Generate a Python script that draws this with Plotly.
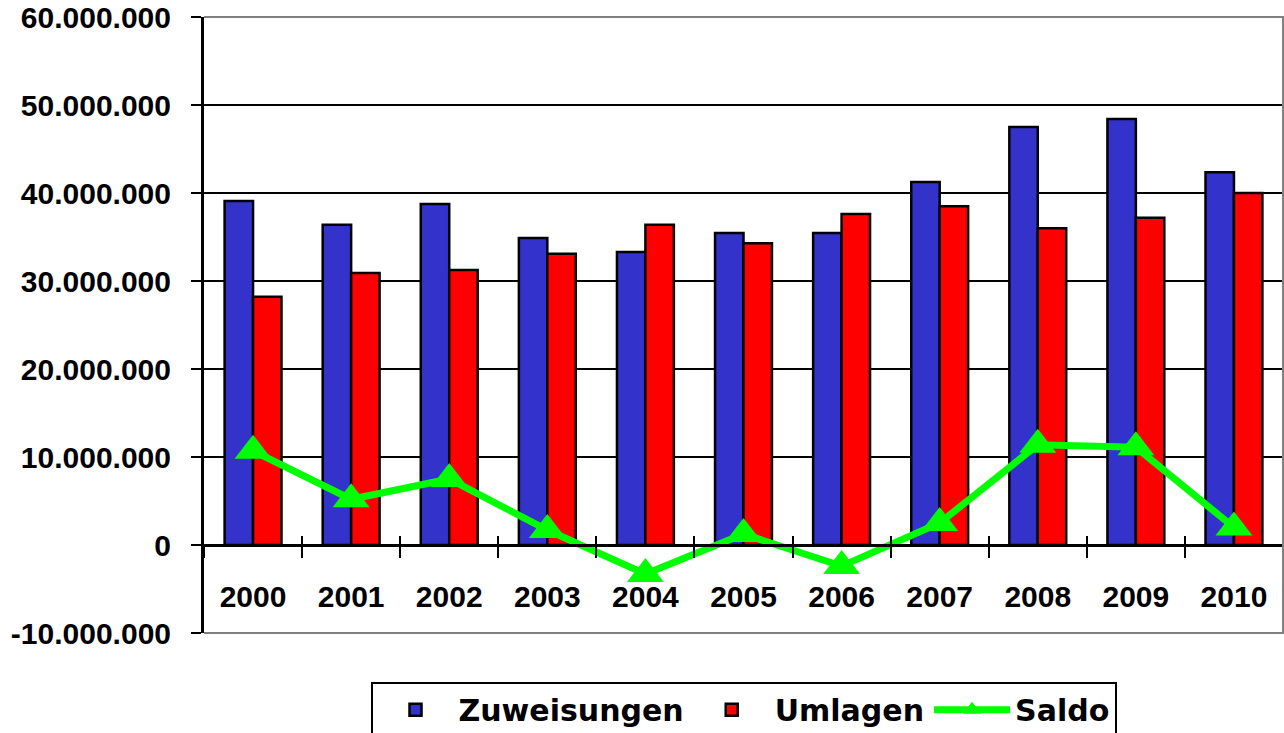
import plotly.graph_objects as go

years = ['2000', '2001', '2002', '2003', '2004', '2005', '2006', '2007', '2008', '2009', '2010']
zuweisungen = [39100000, 36400000, 38750000, 34900000, 33300000, 35450000, 35450000, 41250000, 47500000, 48400000, 42350000]
umlagen = [28200000, 30900000, 31250000, 33100000, 36400000, 34300000, 37600000, 38500000, 36000000, 37200000, 40000000]
saldo = [10700000, 5200000, 7500000, 1700000, -3300000, 1250000, -2400000, 2500000, 11400000, 11100000, 2000000]

y_tickvals = [-10000000, 0, 10000000, 20000000, 30000000, 40000000, 50000000, 60000000]
y_ticktext = [f"{v:,}".replace(",", ".") for v in y_tickvals]

Y_MIN, Y_MAX = -10000000, 60000000
zero_pos = (0 - Y_MIN) / (Y_MAX - Y_MIN)

BLUE = '#3333CC'
RED = '#FF0000'
GREEN = '#00FF00'
FONT = 'Liberation Sans, Arial, sans-serif'

fig = go.Figure()
fig.add_trace(go.Bar(x=years, y=zuweisungen, name='Zuweisungen',
                     marker=dict(color=BLUE, line=dict(color='black', width=2.5))))
fig.add_trace(go.Bar(x=years, y=umlagen, name='Umlagen',
                     marker=dict(color=RED, line=dict(color='black', width=2.5))))
fig.add_trace(go.Scatter(x=years, y=saldo, name='Saldo', mode='lines+markers',
                         xaxis='x2', yaxis='y',
                         line=dict(color=GREEN, width=7),
                         marker=dict(symbol='triangle-up', size=32, color=GREEN)))

fig.update_layout(
    template='none',
    width=1284, height=733,
    margin=dict(l=204, r=1, t=17, b=100, autoexpand=False),
    paper_bgcolor='white', plot_bgcolor='white',
    barmode='group', bargap=0.42, bargroupgap=0,
    showlegend=True,
    legend=dict(orientation='h', x=0.5, xanchor='center', y=-0.079, yanchor='top',
                bordercolor='black', borderwidth=2, bgcolor='white',
                font=dict(family='DejaVu Sans', size=30, color='black', weight='bold'),
                itemwidth=76, tracegroupgap=0, traceorder='normal'),
    xaxis=dict(type='category', categoryorder='array', categoryarray=years,
               range=[-0.5, 10.5], anchor='free', position=zero_pos, automargin=False,
               showline=True, linecolor='black', linewidth=3,
               ticks='outside', tickson='boundaries', ticklen=11, tickwidth=2, tickcolor='black',
               ticklabelstandoff=24, showgrid=False, zeroline=False,
               tickfont=dict(family=FONT, size=30, color='black', weight='bold')),
    xaxis2=dict(type='category', categoryorder='array', categoryarray=years,
                range=[-0.5, 10.5], overlaying='x', anchor='free', position=zero_pos,
                automargin=False,
                showline=False, ticks='inside', tickson='boundaries', ticklen=9, tickwidth=2,
                tickcolor='black', showticklabels=False, showgrid=False, zeroline=False),
    yaxis=dict(range=[Y_MIN, Y_MAX], tickvals=y_tickvals, ticktext=y_ticktext,
               automargin=False, ticklabeloverflow='allow',
               showline=True, linecolor='black', linewidth=3,
               ticks='outside', ticklen=10, tickwidth=2, tickcolor='black',
               showgrid=True, gridcolor='black', gridwidth=2,
               zeroline=True, zerolinecolor='black', zerolinewidth=3,
               ticklabelstandoff=14,
               tickfont=dict(family=FONT, size=30, color='black', weight='bold')),
    shapes=[dict(type='path', xref='paper', yref='paper',
                 path='M 0,1 L 1,1 L 1,0 L 0,0',
                 line=dict(color='#808080', width=2), layer='above')],
)

fig.write_html("out.html",
               config={'displayModeBar': False},
               post_script="document.body.style.margin='0';document.body.style.overflow='hidden';")
